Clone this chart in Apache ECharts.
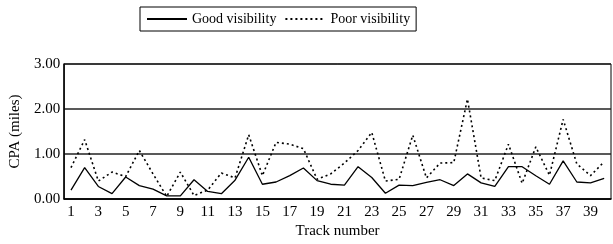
<!DOCTYPE html>
<html>
<head>
<meta charset="utf-8">
<script src="https://cdn.jsdelivr.net/npm/echarts@6/dist/echarts.min.js"></script>
<style>
  html, body { margin: 0; padding: 0; background: #fff; }
  #main { width: 613px; height: 244px; }
</style>
</head>
<body>
<div id="main"></div>
<script>
// track numbers 1..40
var tracks = ['1','2','3','4','5','6','7','8','9','10','11','12','13','14','15','16','17','18','19','20',
              '21','22','23','24','25','26','27','28','29','30','31','32','33','34','35','36','37','38','39','40'];

// CPA in miles
var goodVis = [0.20, 0.70, 0.28, 0.12, 0.49, 0.30, 0.22, 0.07, 0.07, 0.43,
               0.17, 0.12, 0.42, 0.93, 0.33, 0.38, 0.52, 0.69, 0.41, 0.33,
               0.31, 0.72, 0.48, 0.13, 0.31, 0.30, 0.37, 0.43, 0.30, 0.56,
               0.36, 0.28, 0.72, 0.72, 0.52, 0.33, 0.85, 0.38, 0.36, 0.46];

var poorVis = [0.70, 1.32, 0.40, 0.60, 0.50, 1.08, 0.56, 0.06, 0.60, 0.08,
               0.20, 0.58, 0.47, 1.43, 0.52, 1.26, 1.22, 1.12, 0.44, 0.56,
               0.80, 1.08, 1.48, 0.40, 0.44, 1.42, 0.47, 0.80, 0.81, 2.22,
               0.47, 0.41, 1.22, 0.35, 1.16, 0.53, 1.77, 0.78, 0.52, 0.83];

var yTicks = [0, 1, 2, 3];

var font = 'Liberation Serif';
var chart = echarts.init(document.getElementById('main'));

chart.setOption({
    animation: false,
    textStyle: { fontFamily: font, color: '#000' },
    legend: {
        left: 140,
        top: 7,
        itemWidth: 40,
        itemHeight: 14,
        itemGap: 8,
        padding: [5, 6],
        borderColor: '#000',
        borderWidth: 1,
        // no marker on the legend line, just the stroke
        itemStyle: { color: 'transparent', borderWidth: 0 },
        textStyle: { fontFamily: font, fontSize: 14, color: '#000' },
        data: ['Good visibility', 'Poor visibility']
    },
    grid: {
        left: 62,
        right: 2,
        top: 64,
        bottom: 40,
        show: true,
        borderColor: '#000',
        borderWidth: 1
    },
    xAxis: {
        type: 'category',
        data: tracks,
        name: 'Track number',
        nameLocation: 'middle',
        nameGap: 23,
        nameTextStyle: { fontFamily: font, fontSize: 15, color: '#000' },
        axisLine: { lineStyle: { color: '#000', width: 1.5 } },
        axisTick: { inside: true, length: 4, interval: 0, lineStyle: { color: '#000' } },
        axisLabel: { interval: 1, margin: 5, fontFamily: font, fontSize: 15, color: '#000' },
        splitLine: { show: false }
    },
    yAxis: {
        type: 'value',
        min: yTicks[0],
        max: yTicks[yTicks.length - 1],
        interval: 1,
        name: 'CPA (miles)',
        nameLocation: 'middle',
        nameGap: 31,
        nameTextStyle: { fontFamily: font, fontSize: 15, color: '#000' },
        axisLine: { show: true, lineStyle: { color: '#000', width: 1.5 } },
        axisTick: { show: false },
        axisLabel: {
            margin: 4,
            fontFamily: font,
            fontSize: 15,
            color: '#000',
            formatter: function (v) { return v.toFixed(2); }
        },
        splitLine: { show: true, lineStyle: { color: '#222', width: 1.5 } }
    },
    series: [
        {
            name: 'Good visibility',
            type: 'line',
            data: goodVis,
            symbol: 'none',
            itemStyle: { color: '#000' },
            lineStyle: { color: '#000', width: 1.3 }
        },
        {
            name: 'Poor visibility',
            type: 'line',
            data: poorVis,
            symbol: 'none',
            itemStyle: { color: '#000' },
            lineStyle: { color: '#000', width: 1.6, type: [2, 3] }
        }
    ]
});
</script>
</body>
</html>
